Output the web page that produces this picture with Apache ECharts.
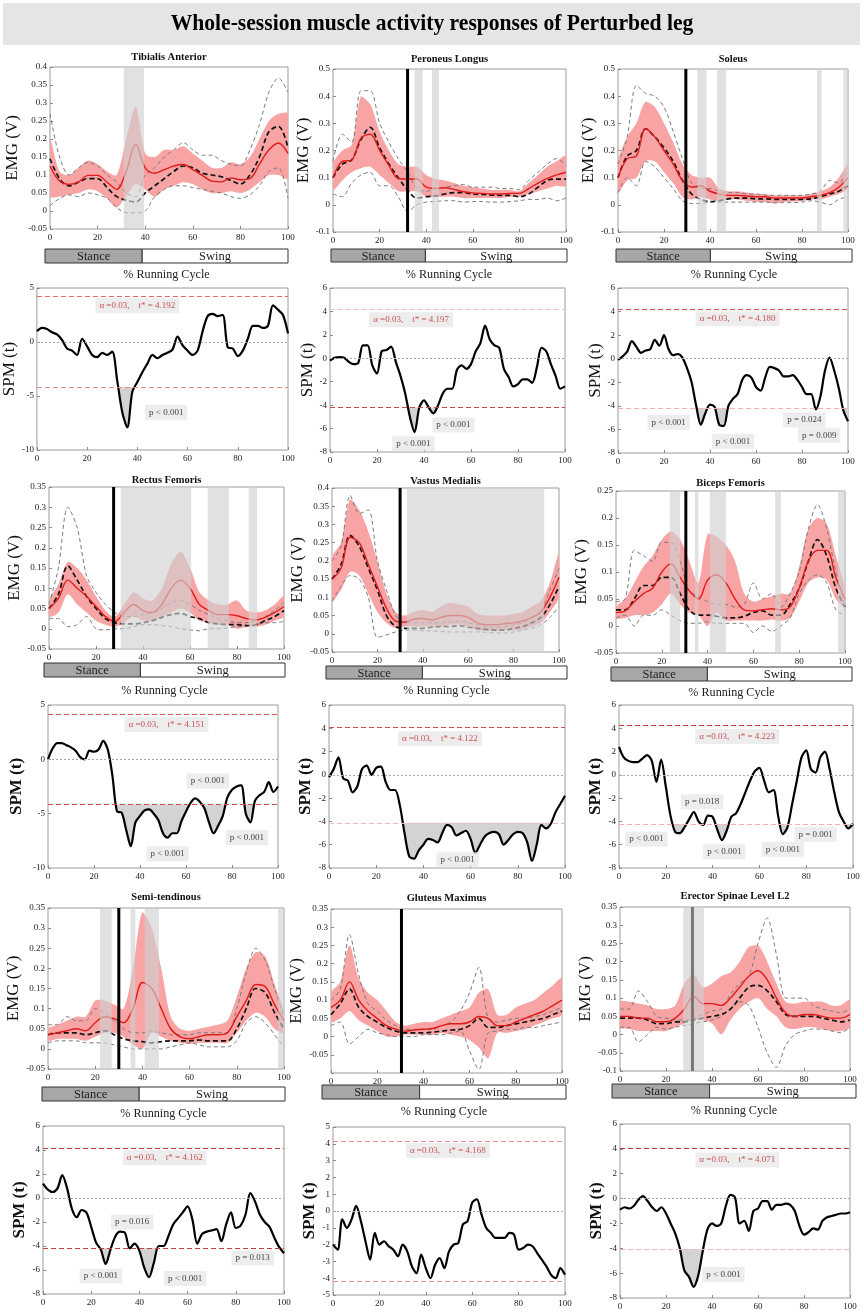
<!DOCTYPE html>
<html><head><meta charset="utf-8">
<script src="https://cdn.jsdelivr.net/npm/echarts@6/dist/echarts.min.js"></script>
<style>html,body{margin:0;padding:0;background:#fff}#c{width:864px;height:1314px}</style>
</head><body><div id="c"></div>
<script>
const FONT = "'Liberation Serif','Times New Roman',serif";
const FIG_TITLE = 'Whole-session muscle activity responses of Perturbed leg';
const EMG_X = [0,4,8,12,16,20,24,28,32,36,40,44,48,52,56,60,64,68,72,76,80,84,88,92,96,100];
const SPM_X = [0,2,4,6,8,10,12,14,16,18,20,22,24,26,28,30,32,34,36,38,40,42,44,46,48,50,52,54,56,58,60,62,64,66,68,70,72,74,76,78,80,82,84,86,88,90,92,94,96,98,100];
const X_TICKS = [0, 100, 20];

// ---- Tibialis Anterior
const TA_RED = [0.125,0.083,0.074,0.081,0.099,0.099,0.080,0.060,0.110,0.185,0.120,0.105,0.115,0.125,0.129,0.115,0.099,0.083,0.081,0.092,0.087,0.090,0.130,0.170,0.189,0.160];
const TA_RED_HI = [0.20,0.11,0.10,0.12,0.14,0.13,0.11,0.10,0.20,0.29,0.16,0.15,0.17,0.17,0.18,0.16,0.14,0.12,0.12,0.135,0.13,0.15,0.20,0.25,0.27,0.27];
const TA_RED_LO = [0.04,0.04,0.045,0.05,0.06,0.055,0.035,0.01,0.04,0.075,0.06,0.04,0.06,0.07,0.08,0.075,0.06,0.05,0.05,0.055,0.05,0.06,0.08,0.10,0.10,0.09];
const TA_BLK = [0.145,0.09,0.07,0.08,0.09,0.09,0.065,0.04,0.03,0.025,0.05,0.07,0.09,0.11,0.125,0.12,0.105,0.10,0.095,0.085,0.075,0.10,0.15,0.22,0.235,0.175];
const TA_GHI = [0.27,0.15,0.10,0.12,0.135,0.125,0.10,0.08,0.05,0.04,0.10,0.12,0.15,0.17,0.19,0.17,0.155,0.155,0.14,0.13,0.125,0.17,0.24,0.33,0.37,0.33];
const TA_GLO = [0.015,0.035,0.045,0.04,0.05,0.045,0.035,0.01,-0.005,-0.005,0.0,0.04,0.06,0.07,0.07,0.065,0.06,0.055,0.05,0.04,0.035,0.045,0.07,0.11,0.12,0.035];
const TA_SIG = [[31,39.5]];
const TA_TOE = [];
const TA_YAX = [-0.05, 0.4, 0.05];
// ---- Peroneus Longus
const PL_RED = [0.10,0.16,0.165,0.245,0.26,0.20,0.145,0.097,0.095,0.095,0.065,0.06,0.063,0.057,0.048,0.044,0.042,0.04,0.04,0.042,0.042,0.06,0.08,0.097,0.11,0.12];
const PL_RED_HI = [0.15,0.20,0.22,0.40,0.37,0.27,0.20,0.15,0.14,0.14,0.11,0.095,0.09,0.08,0.07,0.065,0.06,0.055,0.055,0.055,0.05,0.08,0.11,0.14,0.16,0.18];
const PL_RED_LO = [0.055,0.09,0.12,0.135,0.14,0.11,0.08,0.05,0.05,0.05,0.03,0.03,0.03,0.03,0.025,0.025,0.025,0.025,0.025,0.03,0.03,0.04,0.05,0.06,0.07,0.07];
const PL_BLK = [0.10,0.15,0.165,0.24,0.285,0.21,0.15,0.10,0.055,0.025,0.03,0.033,0.04,0.045,0.045,0.04,0.038,0.036,0.035,0.035,0.03,0.04,0.065,0.09,0.095,0.095];
const PL_GHI = [0.16,0.26,0.23,0.42,0.42,0.30,0.23,0.17,0.12,0.06,0.05,0.06,0.065,0.07,0.075,0.065,0.065,0.065,0.06,0.06,0.055,0.09,0.12,0.15,0.17,0.145];
const PL_GLO = [0.04,0.03,0.08,0.11,0.12,0.07,0.07,0.03,-0.025,0.0,0.01,0.012,0.015,0.015,0.01,0.012,0.012,0.01,0.01,0.012,0.015,0.02,0.02,0.025,0.015,0.025];
const PL_SIG = [[35,38.5],[42.5,45.5]];
const PL_TOE = [32];
const PL_YAX = [-0.1, 0.5, 0.1];
// ---- Soleus
const SO_RED = [0.10,0.17,0.18,0.28,0.25,0.20,0.15,0.09,0.065,0.07,0.05,0.04,0.035,0.035,0.032,0.03,0.03,0.025,0.025,0.025,0.025,0.03,0.035,0.045,0.065,0.10];
const SO_RED_HI = [0.16,0.25,0.30,0.38,0.36,0.30,0.23,0.15,0.11,0.10,0.10,0.06,0.05,0.05,0.045,0.04,0.04,0.035,0.035,0.035,0.035,0.04,0.05,0.065,0.10,0.15];
const SO_RED_LO = [0.045,0.09,0.10,0.16,0.16,0.12,0.08,0.03,0.02,0.03,0.02,0.015,0.02,0.02,0.015,0.01,0.01,0.005,0.01,0.012,0.015,0.02,0.02,0.03,0.04,0.06];
const SO_BLK = [0.10,0.18,0.20,0.28,0.25,0.21,0.16,0.09,0.04,0.02,0.012,0.015,0.022,0.025,0.025,0.022,0.022,0.02,0.02,0.02,0.02,0.022,0.03,0.04,0.05,0.07];
const SO_GHI = [0.15,0.25,0.44,0.41,0.40,0.36,0.27,0.17,0.08,0.06,0.06,0.05,0.045,0.045,0.04,0.04,0.035,0.035,0.035,0.035,0.035,0.04,0.05,0.09,0.08,0.13];
const SO_GLO = [0.045,0.10,0.07,0.16,0.14,0.10,0.06,0.015,0.005,0.005,0.01,0.01,0.01,0.01,0.01,0.01,0.01,0.008,0.008,0.008,0.01,0.015,0.01,0.0,0.02,0.03];
const SO_SIG = [[34.5,38.5],[43,47],[86.5,88.5],[98,100]];
const SO_TOE = [29.5];
const SO_YAX = [-0.1, 0.5, 0.1];
// ---- Rectus Femoris
const RF_RED = [0.05,0.075,0.12,0.10,0.08,0.055,0.03,0.018,0.04,0.06,0.045,0.04,0.06,0.10,0.12,0.10,0.06,0.045,0.035,0.035,0.032,0.025,0.022,0.028,0.04,0.055];
const RF_RED_HI = [0.07,0.11,0.165,0.15,0.12,0.08,0.045,0.03,0.06,0.09,0.075,0.07,0.10,0.16,0.19,0.15,0.09,0.07,0.06,0.06,0.07,0.045,0.04,0.045,0.06,0.08];
const RF_RED_LO = [0.03,0.04,0.085,0.06,0.04,0.02,0.01,0.005,0.015,0.03,0.02,0.02,0.03,0.04,0.05,0.04,0.02,0.015,0.01,0.01,0.0,0.005,0.005,0.01,0.02,0.03];
const RF_BLK = [0.05,0.085,0.155,0.12,0.08,0.05,0.025,0.015,0.012,0.012,0.015,0.02,0.028,0.035,0.038,0.03,0.025,0.015,0.012,0.01,0.01,0.008,0.01,0.02,0.03,0.045];
const RF_GHI = [0.06,0.15,0.30,0.25,0.13,0.09,0.06,0.04,0.03,0.03,0.035,0.04,0.05,0.065,0.07,0.06,0.045,0.035,0.025,0.02,0.015,0.015,0.02,0.03,0.045,0.065];
const RF_GLO = [0.025,0.025,0.005,0.01,0.03,0.0,-0.003,0.0,0.0,0.005,0.01,0.01,0.008,0.005,0.0,-0.003,-0.005,0.0,0.0,0.002,0.005,0.005,0.01,0.015,0.015,0.018];
const RF_SIG = [[30.5,60.5],[67.5,76.5],[85,88.5]];
const RF_TOE = [27.5];
const RF_YAX = [-0.05, 0.35, 0.05];
// ---- Vastus Medialis
const VM_RED = [0.15,0.18,0.265,0.25,0.19,0.13,0.07,0.035,0.032,0.04,0.042,0.038,0.045,0.05,0.05,0.045,0.03,0.025,0.025,0.028,0.03,0.035,0.045,0.06,0.10,0.155];
const VM_RED_HI = [0.21,0.25,0.37,0.34,0.28,0.20,0.11,0.06,0.05,0.06,0.065,0.06,0.075,0.085,0.08,0.075,0.055,0.05,0.05,0.05,0.055,0.06,0.075,0.09,0.14,0.22];
const VM_RED_LO = [0.09,0.12,0.17,0.16,0.11,0.06,0.03,0.015,0.02,0.02,0.02,0.02,0.02,0.025,0.025,0.02,0.01,0.008,0.008,0.01,0.01,0.012,0.02,0.03,0.06,0.10];
const VM_BLK = [0.15,0.19,0.27,0.24,0.18,0.12,0.05,0.02,0.015,0.015,0.015,0.018,0.02,0.02,0.022,0.018,0.015,0.012,0.01,0.01,0.015,0.02,0.03,0.045,0.08,0.13];
const VM_GHI = [0.20,0.24,0.38,0.33,0.34,0.20,0.12,0.05,0.03,0.03,0.03,0.03,0.03,0.032,0.035,0.03,0.025,0.02,0.018,0.02,0.025,0.03,0.045,0.06,0.12,0.18];
const VM_GLO = [0.09,0.13,0.16,0.15,0.10,-0.01,-0.003,0.005,0.01,0.01,0.008,0.008,0.006,0.005,0.005,0.005,0.005,0.004,0.002,0.002,0.005,0.01,0.015,0.025,0.045,0.075];
const VM_SIG = [[33,93.5]];
const VM_TOE = [30];
const VM_YAX = [-0.05, 0.4, 0.05];
// ---- Biceps Femoris
const BF_RED = [0.025,0.028,0.045,0.06,0.07,0.10,0.115,0.09,0.065,0.05,0.085,0.095,0.08,0.05,0.03,0.028,0.03,0.032,0.03,0.035,0.07,0.12,0.14,0.14,0.09,0.05];
const BF_RED_HI = [0.035,0.05,0.08,0.11,0.13,0.16,0.175,0.16,0.12,0.08,0.17,0.165,0.15,0.12,0.06,0.045,0.05,0.055,0.06,0.06,0.11,0.18,0.20,0.19,0.13,0.07];
const BF_RED_LO = [0.015,0.015,0.02,0.02,0.025,0.04,0.06,0.04,0.025,0.02,0.0,0.025,0.01,0.01,0.01,0.01,0.01,0.012,0.01,0.015,0.045,0.08,0.09,0.085,0.05,0.035];
const BF_BLK = [0.03,0.03,0.05,0.075,0.075,0.09,0.09,0.06,0.03,0.02,0.02,0.018,0.015,0.015,0.018,0.025,0.028,0.02,0.02,0.04,0.07,0.12,0.16,0.13,0.07,0.035];
const BF_GHI = [0.045,0.05,0.14,0.13,0.12,0.155,0.155,0.12,0.065,0.055,0.045,0.04,0.04,0.035,0.04,0.08,0.05,0.06,0.035,0.06,0.10,0.18,0.225,0.18,0.10,0.04];
const BF_GLO = [0.015,0.02,0.0,0.02,0.02,0.03,0.02,0.01,0.005,0.005,0.008,0.005,0.005,0.005,0.005,-0.012,0.0,-0.01,0.0,0.015,0.06,0.085,0.095,0.08,0.03,0.02];
const BF_SIG = [[23.5,28],[34.5,36],[41,48],[69.5,72],[97,100]];
const BF_TOE = [30.5];
const BF_YAX = [-0.05, 0.25, 0.05];
// ---- Semi-tendinous
const ST_RED = [0.035,0.04,0.045,0.05,0.045,0.065,0.08,0.075,0.065,0.10,0.165,0.15,0.10,0.05,0.03,0.025,0.03,0.035,0.035,0.04,0.08,0.12,0.16,0.155,0.11,0.07];
const ST_RED_HI = [0.05,0.06,0.07,0.08,0.08,0.12,0.12,0.11,0.10,0.20,0.34,0.30,0.20,0.08,0.05,0.045,0.05,0.055,0.06,0.07,0.13,0.20,0.24,0.23,0.16,0.09];
const ST_RED_LO = [0.02,0.025,0.025,0.025,0.02,0.03,0.04,0.04,0.03,0.01,0.0,0.04,0.03,0.02,0.015,0.012,0.015,0.015,0.015,0.015,0.04,0.07,0.09,0.08,0.05,0.04];
const ST_BLK = [0.035,0.04,0.04,0.04,0.035,0.04,0.045,0.035,0.025,0.02,0.018,0.015,0.018,0.02,0.02,0.02,0.022,0.02,0.02,0.02,0.05,0.10,0.15,0.14,0.09,0.05];
const ST_GHI = [0.06,0.06,0.08,0.07,0.07,0.10,0.09,0.07,0.05,0.04,0.04,0.045,0.04,0.035,0.035,0.035,0.04,0.04,0.04,0.04,0.10,0.19,0.25,0.22,0.15,0.08];
const ST_GLO = [0.015,0.02,0.02,0.02,0.015,0.015,0.015,0.01,0.005,0.0,0.0,0.0,0.0,0.005,0.01,0.015,0.01,0.005,0.005,0.005,0.02,0.065,0.08,0.065,0.035,0.005];
const ST_SIG = [[22,27],[35,37],[41,47],[97.5,100]];
const ST_TOE = [30];
const ST_YAX = [-0.05, 0.35, 0.05];
// ---- Gluteus Maximus
const GM_RED = [0.08,0.10,0.15,0.10,0.07,0.05,0.03,0.02,0.015,0.018,0.02,0.022,0.03,0.035,0.035,0.04,0.055,0.05,0.03,0.03,0.04,0.05,0.06,0.07,0.085,0.10];
const GM_RED_HI = [0.12,0.15,0.25,0.16,0.12,0.10,0.07,0.04,0.03,0.035,0.04,0.04,0.05,0.06,0.07,0.08,0.12,0.13,0.06,0.06,0.08,0.09,0.10,0.12,0.14,0.16];
const GM_RED_LO = [0.04,0.05,0.07,0.045,0.03,0.015,0.0,0.0,0.005,0.005,0.005,0.005,0.01,0.005,0.0,-0.01,-0.03,-0.06,0.01,0.01,0.015,0.02,0.03,0.04,0.05,0.06];
const GM_BLK = [0.06,0.09,0.13,0.08,0.055,0.04,0.025,0.015,0.01,0.01,0.01,0.012,0.015,0.018,0.02,0.03,0.05,0.025,0.025,0.03,0.035,0.04,0.045,0.05,0.06,0.07];
const GM_GHI = [0.10,0.13,0.28,0.17,0.09,0.07,0.045,0.03,0.02,0.02,0.02,0.02,0.03,0.04,0.07,0.12,0.19,0.05,0.04,0.045,0.05,0.05,0.055,0.06,0.07,0.08];
const GM_GLO = [0.03,0.04,-0.02,0.0,0.02,0.01,0.005,0.0,0.0,0.0,0.005,0.005,0.005,0.01,0.015,-0.04,-0.09,0.01,0.015,0.02,0.02,0.025,0.025,0.03,0.035,0.04];
const GM_SIG = [];
const GM_TOE = [30.5];
const GM_YAX = [-0.1, 0.35, 0.05];
// ---- Erector Spinae Level L2
const ES_RED = [0.05,0.05,0.045,0.045,0.035,0.035,0.045,0.07,0.105,0.085,0.085,0.08,0.10,0.13,0.16,0.175,0.15,0.10,0.06,0.05,0.055,0.055,0.05,0.045,0.045,0.055];
const ES_RED_HI = [0.09,0.09,0.085,0.08,0.07,0.07,0.08,0.14,0.165,0.13,0.14,0.16,0.17,0.20,0.24,0.245,0.20,0.14,0.09,0.085,0.09,0.09,0.09,0.08,0.08,0.095];
const ES_RED_LO = [0.02,0.015,0.01,0.01,0.01,0.01,0.02,0.03,0.04,0.04,0.03,0.0,0.04,0.07,0.09,0.10,0.07,0.05,0.02,0.015,0.02,0.02,0.015,0.01,0.01,0.02];
const ES_BLK = [0.045,0.045,0.045,0.04,0.03,0.03,0.035,0.035,0.04,0.045,0.05,0.055,0.07,0.10,0.13,0.135,0.12,0.09,0.055,0.05,0.05,0.05,0.045,0.04,0.035,0.04];
const ES_GHI = [0.07,0.07,0.12,0.09,0.05,0.045,0.04,0.04,0.045,0.055,0.065,0.07,0.11,0.14,0.16,0.25,0.32,0.22,0.10,0.10,0.10,0.08,0.07,0.065,0.06,0.07];
const ES_GLO = [0.02,0.02,-0.02,0.0,0.02,0.015,0.02,0.025,0.03,0.035,0.04,0.05,0.07,0.09,0.08,0.02,-0.05,-0.09,-0.03,0.0,0.01,0.015,0.015,0.01,0.005,0.02];
const ES_SIG = [[27.5,36.5]];
const ES_TOE = [31.5];
const ES_YAX = [-0.1, 0.35, 0.05];

// ---- SPM curves
const TA_SPM = [1.0,1.3,1.2,0.9,0.7,0.2,-0.6,-0.8,-1.2,0.3,-0.4,-1.2,-1.4,-1.0,-1.2,-0.9,-3.6,-6.5,-7.9,-4.6,-3.7,-2.8,-2.0,-1.2,-1.5,-1.2,-1.0,-0.7,0.5,-0.3,-0.8,-1.2,-0.8,1.0,2.4,2.6,2.4,2.5,-0.5,-0.6,-1.3,-0.8,0.3,1.5,1.5,1.3,1.5,3.4,3.0,2.5,0.8];
const PL_SPM = [-0.2,0.05,0.1,0.05,-0.3,-0.5,-0.4,1.1,1.1,-0.6,-1.3,0.6,0.7,1.0,-0.3,-1.5,-3.0,-5.0,-6.3,-4.2,-3.6,-4.2,-4.7,-4.0,-3.0,-2.6,-2.6,-1.0,-0.6,-0.9,-0.5,0.6,1.3,2.8,1.6,1.1,0.9,-0.9,-1.6,-2.4,-2.2,-1.8,-1.8,-2.1,-0.8,0.9,0.6,-0.5,-1.5,-2.6,-2.4];
const SO_SPM = [-0.1,0.2,0.6,1.5,1.0,0.5,0.7,0.8,1.6,1.1,2.0,0.8,0.3,0.4,0.1,-0.8,-2.0,-4.0,-5.6,-4.6,-3.9,-4.1,-5.6,-5.7,-4.0,-3.4,-3.0,-1.8,-1.4,-1.6,-2.4,-2.7,-1.6,-0.7,-0.8,-1.0,-1.5,-1.5,-1.4,-1.8,-2.4,-3.0,-3.0,-4.3,-3.2,-1.0,0.1,-1.0,-2.5,-4.4,-5.3];
const RF_SPM = [0.0,1.0,1.5,1.5,1.3,1.1,0.8,0.2,0.0,0.8,0.7,0.9,1.7,0.9,-1.5,-4.8,-4.9,-6.5,-8.0,-5.8,-5.2,-4.7,-4.6,-5.0,-5.6,-6.8,-7.2,-6.8,-6.8,-5.7,-4.8,-4.0,-3.6,-3.9,-4.5,-5.8,-6.8,-6.1,-5.2,-3.5,-2.8,-2.5,-2.4,-5.0,-5.8,-3.8,-3.3,-3.0,-2.1,-3.0,-2.5];
const VM_SPM = [-0.2,0.5,1.5,-0.3,-0.5,-1.5,-1.0,0.5,0.8,0.0,0.6,0.7,-0.6,-1.3,-1.3,-2.6,-5.0,-7.0,-7.2,-6.5,-6.0,-5.5,-5.6,-5.8,-5.0,-4.3,-4.5,-5.2,-5.0,-4.8,-5.5,-6.7,-6.0,-5.3,-5.0,-4.9,-5.1,-6.0,-5.6,-5.1,-4.9,-5.0,-5.8,-7.4,-6.0,-4.3,-4.6,-4.2,-3.2,-2.5,-1.8];
const BF_SPM = [2.4,1.5,1.2,1.1,1.1,1.4,1.7,1.2,-0.6,1.3,-1.0,-3.5,-4.9,-5.0,-4.5,-3.8,-3.2,-4.0,-4.3,-3.5,-3.6,-4.7,-5.6,-4.8,-3.6,-3.3,-2.5,-1.5,-0.5,0.3,0.6,-0.5,-1.5,-1.3,-3.5,-5.1,-4.5,-2.5,-0.5,1.5,2.1,0.5,0.2,1.5,2.0,0.5,-1.5,-3.2,-4.0,-4.6,-4.2];
const ST_SPM = [1.2,0.7,0.5,0.8,1.9,0.8,-0.9,-1.6,-1.0,-1.2,-2.4,-3.7,-4.3,-5.5,-4.3,-3.2,-2.8,-2.9,-4.2,-3.8,-4.4,-5.8,-6.6,-5.4,-4.0,-4.0,-3.2,-2.2,-1.7,-1.2,-0.7,-1.8,-3.8,-3.0,-2.8,-2.7,-2.6,-3.6,-2.2,-1.2,-2.5,-2.3,-1.4,0.4,-0.3,-1.4,-2.0,-2.4,-3.3,-4.1,-4.6];
const GM_SPM = [-2.0,-2.3,-0.5,-1.0,-0.5,0.3,-0.6,-1.8,-2.9,-1.3,-2.0,-1.8,-2.1,-2.3,-2.7,-2.0,-2.4,-3.3,-3.7,-2.6,-3.4,-4.0,-3.2,-2.8,-3.4,-2.4,-2.0,-1.9,-0.8,-0.6,0.5,0.7,-0.2,-1.0,-1.3,-1.6,-1.6,-1.6,-1.3,-1.4,-2.3,-2.2,-2.0,-2.1,-2.5,-2.9,-3.3,-3.8,-4.0,-3.4,-3.8];
const ES_SPM = [-0.9,-0.7,-0.8,-0.6,-0.1,0.2,-0.2,-0.7,-1.0,-0.7,-1.2,-2.0,-2.8,-4.0,-5.8,-6.3,-7.1,-6.2,-4.2,-2.5,-2.0,-2.2,-2.0,-0.6,0.3,0.1,-2.0,-1.8,-2.6,-1.0,-0.8,-0.2,-0.2,-0.9,-0.5,-0.5,-0.4,-0.5,-1.0,-2.2,-2.9,-2.7,-2.4,-2.5,-1.8,-1.5,-1.4,-1.3,-1.2,-1.2,-1.1];

const TSTAR = [4.192, 4.197, 4.180, 4.151, 4.122, 4.223, 4.162, 4.168, 4.071];
const SPM_YAX = [[-10,5,5],[-8,6,2],[-8,6,2],[-10,5,5],[-8,6,2],[-8,6,2],[-8,6,2],[-5,5,1],[-8,6,2]];
const ALPHA_AT = [[40,3.35],[34.5,3.3],[52,3.4],[51.5,3.2],[47,3.1],[50.5,3.3],[50.5,3.35],[49.5,3.6],[51,3.1]];
const P_NOTES = [
  [[51.5,-6.5,'p < 0.001']],
  [[52.5,-5.7,'p < 0.001'],[35.5,-7.3,'p < 0.001']],
  [[22,-5.4,'p < 0.001'],[50,-7.0,'p < 0.001'],[81,-5.2,'p = 0.024'],[87.5,-6.5,'p = 0.009']],
  [[69.5,-2.0,'p < 0.001'],[52,-8.7,'p < 0.001'],[86.5,-7.2,'p < 0.001']],
  [[54.5,-7.3,'p < 0.001']],
  [[11.7,-5.5,'p < 0.001'],[35.5,-2.3,'p = 0.018'],[45,-6.6,'p < 0.001'],[70,-6.4,'p < 0.001'],[84,-5.1,'p = 0.001']],
  [[37,-2.0,'p = 0.016'],[24,-6.5,'p < 0.001'],[59,-6.7,'p < 0.001'],[87,-5.0,'p = 0.013']],
  [],
  [[45,-6.1,'p < 0.001']]
];

const MUSCLES = ['Tibialis Anterior','Peroneus Longus','Soleus','Rectus Femoris','Vastus Medialis','Biceps Femoris','Semi-tendinous','Gluteus Maximus','Erector Spinae Level L2'];
const EMG = [
  [TA_RED,TA_RED_LO,TA_RED_HI,TA_BLK,TA_GLO,TA_GHI,TA_SIG,TA_TOE,TA_YAX],
  [PL_RED,PL_RED_LO,PL_RED_HI,PL_BLK,PL_GLO,PL_GHI,PL_SIG,PL_TOE,PL_YAX],
  [SO_RED,SO_RED_LO,SO_RED_HI,SO_BLK,SO_GLO,SO_GHI,SO_SIG,SO_TOE,SO_YAX],
  [RF_RED,RF_RED_LO,RF_RED_HI,RF_BLK,RF_GLO,RF_GHI,RF_SIG,RF_TOE,RF_YAX],
  [VM_RED,VM_RED_LO,VM_RED_HI,VM_BLK,VM_GLO,VM_GHI,VM_SIG,VM_TOE,VM_YAX],
  [BF_RED,BF_RED_LO,BF_RED_HI,BF_BLK,BF_GLO,BF_GHI,BF_SIG,BF_TOE,BF_YAX],
  [ST_RED,ST_RED_LO,ST_RED_HI,ST_BLK,ST_GLO,ST_GHI,ST_SIG,ST_TOE,ST_YAX],
  [GM_RED,GM_RED_LO,GM_RED_HI,GM_BLK,GM_GLO,GM_GHI,GM_SIG,GM_TOE,GM_YAX],
  [ES_RED,ES_RED_LO,ES_RED_HI,ES_BLK,ES_GLO,ES_GHI,ES_SIG,ES_TOE,ES_YAX]
];
const SPM = [TA_SPM,PL_SPM,SO_SPM,RF_SPM,VM_SPM,BF_SPM,ST_SPM,GM_SPM,ES_SPM];

// ---------- layout & style (pixels) ----------
const EMG_BOX = [[50,67,288,229],[333,69,566,232],[618,69,848,232],[49,487,284,649],[332,488,559,652],[616,491,845,653],[48,908,284,1069],[331,909,562,1073],[620,907,850,1071]];
const SPM_BOX = [[36,288,288,450],[330,288,565,452],[618,288,848,453],[48,705,278,868],[329,705,565,868],[619,705,853,868],[43,1126,284,1294],[333,1127,565,1295],[620,1124,850,1298]];
const EMG_NAME_X = [13,305,590,18,305,590,17,303,591];
const SPM_NAME_X = [22,313,598,17,310,601,22,313,598];
const BARS = [[45,288,249,14],[331,567,249,13],[616,852,249,13],[44,285,663,14],[326,567,666,13],[611,852,667,14],[42,285,1087,14],[322,566,1085,14],[612,856,1084,14]];
const TITLE_Y = [57,59,59,480,481,483,897,898,896];
const CYCLE_Y = [274,274,274,690,690,692,1113,1111,1110];
const THR_COL = [['#e06666','#e58a8a'],['#f5c0c0','#d64545'],['#d65050','#f2b0b0'],['#d65050','#d65050'],['#d65050','#f2b8b8'],['#c83c3c','#f2b0b0'],['#c83c3c','#c83c3c'],['#eb8a8a','#eb8a8a'],['#c83c3c','#f2b8b8']];
const TOE_COL = ['#000','#000','#000','#000','#000','#000','#000','#000','#777'];

const grids=[], xAxes=[], yAxes=[], series=[], graphics=[];
const zip = (xs, ys) => xs.map((x,k)=>[x, ys[k]]);

function addGrid(box, yr, name, nameX, bold, hideMin) {
  const i = grids.length;
  grids.push({left:box[0], top:box[1], width:box[2]-box[0], height:box[3]-box[1], show:true, borderColor:'#9c9c9c', borderWidth:1, backgroundColor:'rgba(0,0,0,0)'});
  const tick = {show:true, inside:true, length:3, lineStyle:{color:'#8a8a8a'}};
  xAxes.push({gridIndex:i, type:'value', min:X_TICKS[0], max:X_TICKS[1], interval:X_TICKS[2], position:'bottom',
    axisLine:{show:false, onZero:false}, axisTick:tick, splitLine:{show:false},
    axisLabel:{fontFamily:FONT, fontSize:9, color:'#222', margin:4}});
  const fs = 17;
  yAxes.push({gridIndex:i, type:'value', min:yr[0], max:yr[1], interval:yr[2], position:'left', name:name, nameLocation:'middle', nameRotate:90,
    nameGap: Math.max(2, box[0]-nameX-fs/2),
    nameTextStyle:{fontFamily:FONT, fontSize:fs, color:'#111', fontWeight: bold?'bold':'normal'},
    axisLine:{show:false, onZero:false}, axisTick:tick, splitLine:{show:false},
    axisLabel:{fontFamily:FONT, fontSize:9, color:'#222', margin:3,
      formatter: v => (hideMin && Math.abs(v-yr[0])<1e-9) ? '' : String(+(+v).toFixed(3))}});
  return i;
}

function bounds(pts) {
  let x0=Infinity,y0=Infinity,x1=-Infinity,y1=-Infinity;
  pts.forEach(p=>{x0=Math.min(x0,p[0]);y0=Math.min(y0,p[1]);x1=Math.max(x1,p[0]);y1=Math.max(y1,p[1]);});
  return [[x0,y0],[x1,y1]];
}
function bandSeries(i, xs, lo, hi, color) {
  return {type:'custom', xAxisIndex:i, yAxisIndex:i, z:1, silent:true, clip:true, data:[[xs[0], lo[0]]],
    renderItem:(p, api)=>{
      const top = xs.map((x,k)=>api.coord([x, hi[k]]));
      const bot = xs.map((x,k)=>api.coord([x, lo[k]])).reverse();
      const pts = top.concat(bot);
      return {type:'polygon', shape:{points:pts, smooth:0.3, smoothConstraint:bounds(pts)}, style:{fill:color}};
    }};
}
function clusterSeries(i, xs, t, thr) {
  const polys=[]; let cur=null;
  for (let k=0;k<xs.length;k++){
    if (t[k] < thr) {
      if (!cur) { cur=[]; if (k>0){ const f=(thr-t[k-1])/(t[k]-t[k-1]); cur.push([xs[k-1]+f*(xs[k]-xs[k-1]), thr]); } else cur.push([xs[k], thr]); }
      cur.push([xs[k], t[k]]);
    } else if (cur) {
      const f=(thr-t[k-1])/(t[k]-t[k-1]); cur.push([xs[k-1]+f*(xs[k]-xs[k-1]), thr]); polys.push(cur); cur=null;
    }
  }
  if (cur) { cur.push([xs[xs.length-1], thr]); polys.push(cur); }
  return {type:'custom', xAxisIndex:i, yAxisIndex:i, z:1, silent:true, clip:true, data:polys.map((_,k)=>[k, thr]),
    renderItem:(p, api)=>{
      const poly = polys[p.dataIndex];
      if (!poly) return null;
      return {type:'polygon', shape:{points:poly.map(q=>api.coord(q))}, style:{fill:'#d3d3d3'}};
    }};
}
function zoneSeries(i, sig, yr) {
  return {type:'custom', xAxisIndex:i, yAxisIndex:i, z:5, silent:true, data:sig,
    renderItem:(p, api)=>{
      const a = api.coord([api.value(0), yr[1]]), b = api.coord([api.value(1), yr[0]]);
      return {type:'rect', shape:{x:a[0], y:a[1], width:b[0]-a[0], height:b[1]-a[1]}, style:{fill:'rgba(208,208,208,0.64)'}};
    }};
}
function toeSeries(i, toe, yr, col) {
  return {type:'custom', xAxisIndex:i, yAxisIndex:i, z:6, silent:true, data:toe.map(t=>[t, yr[0]]),
    renderItem:(p, api)=>{
      const a = api.coord([api.value(0), yr[1]]), b = api.coord([api.value(0), yr[0]]);
      return {type:'line', shape:{x1:a[0], y1:a[1], x2:b[0], y2:b[1]}, style:{stroke:col, lineWidth:3}};
    }};
}

for (let m=0; m<9; m++) {
  const row = Math.floor(m/3);
  const [red, lo, hi, blk, glo, ghi, sig, toe, yr] = EMG[m];
  const gi = addGrid(EMG_BOX[m], yr, 'EMG (V)', EMG_NAME_X[m], false, m===7);
  const base = {type:'line', xAxisIndex:gi, yAxisIndex:gi, symbol:'none', silent:true, animation:false};
  series.push(bandSeries(gi, EMG_X, lo, hi, '#f8a4a4'));
  series.push(Object.assign({}, base, {data:zip(EMG_X, ghi), smooth:0.3, lineStyle:{color:'#7a7a7a', width:1, type:[4,3]}, z:2}));
  series.push(Object.assign({}, base, {data:zip(EMG_X, glo), smooth:0.3, lineStyle:{color:'#7a7a7a', width:1, type:[4,3]}, z:2}));
  series.push(Object.assign({}, base, {data:zip(EMG_X, blk), smooth:0.35, lineStyle:{color:'#111', width:1.7, type:[5,3]}, z:3}));
  series.push(Object.assign({}, base, {data:zip(EMG_X, red), smooth:0.35, lineStyle:{color:'#e01b1b', width:1.4}, z:4}));
  if (sig.length) series.push(zoneSeries(gi, sig, yr));
  if (toe.length) series.push(toeSeries(gi, toe, yr, TOE_COL[m]));

  const eb = EMG_BOX[m];
  graphics.push({type:'text', x:(eb[0]+eb[2])/2, y:TITLE_Y[m], silent:true,
    style:{text:MUSCLES[m], fontFamily:FONT, fontSize:10.5, fontWeight:'bold', fill:'#111', align:'center', verticalAlign:'middle'}});
  const [x1,x2,by,bh] = BARS[m];
  const sw = (x2-x1)*0.4;
  graphics.push({type:'rect', silent:true, shape:{x:x1, y:by, width:sw, height:bh}, style:{fill:'#a7a7a7', stroke:'#333', lineWidth:1}});
  graphics.push({type:'rect', silent:true, shape:{x:x1+sw, y:by, width:(x2-x1)-sw, height:bh}, style:{fill:'#fff', stroke:'#333', lineWidth:1}});
  graphics.push({type:'text', silent:true, x:x1+sw/2, y:by+bh/2+1, style:{text:'Stance', fontFamily:FONT, fontSize:12.5, fill:'#222', align:'center', verticalAlign:'middle'}});
  graphics.push({type:'text', silent:true, x:x1+sw+((x2-x1)-sw)/2, y:by+bh/2+1, style:{text:'Swing', fontFamily:FONT, fontSize:12.5, fill:'#222', align:'center', verticalAlign:'middle'}});
  graphics.push({type:'text', silent:true, x:(x1+x2)/2, y:CYCLE_Y[m], scaleX:0.9, style:{text:'% Running Cycle', fontFamily:FONT, fontSize:13.5, fill:'#222', align:'center', verticalAlign:'middle'}});

  const syr = SPM_YAX[m], t = SPM[m], ts = TSTAR[m];
  const si = addGrid(SPM_BOX[m], syr, 'SPM (t)', SPM_NAME_X[m], row>0, false);
  const sb = {type:'line', xAxisIndex:si, yAxisIndex:si, symbol:'none', silent:true, animation:false};
  series.push(clusterSeries(si, SPM_X, t, -ts));
  series.push(Object.assign({}, sb, {data:zip(SPM_X, t), smooth:0.3, lineStyle:{color:'#000', width:2.2}, z:4,
    markLine:{silent:true, symbol:'none', animation:false, label:{show:false}, data:[
      {yAxis:ts, lineStyle:{color:THR_COL[m][0], type:[5,3], width:1.2}},
      {yAxis:-ts, lineStyle:{color:THR_COL[m][1], type:[5,3], width:1.2}},
      {yAxis:0, lineStyle:{color:'#a8a8a8', type:[2,2], width:1}}]}}));
  const notes = [{value:ALPHA_AT[m], label:{formatter:'α =0.03,    t* = '+ts.toFixed(3), color:'#c0282b'}}]
    .concat(P_NOTES[m].map(n=>({value:[n[0],n[1]], label:{formatter:n[2]}})));
  series.push({type:'scatter', xAxisIndex:si, yAxisIndex:si, symbolSize:1, silent:true, z:10, animation:false,
    itemStyle:{color:'rgba(0,0,0,0)'}, data:notes,
    label:{show:true, position:'inside', fontFamily:FONT, fontSize:9, color:'#111', backgroundColor:'#e8e8e8', padding:[3,4]}});
}

graphics.unshift({type:'rect', silent:true, z:-1, shape:{x:3, y:3, width:857, height:42}, style:{fill:'#e5e5e5'}});
graphics.push({type:'text', silent:true, x:432, y:24, scaleX:0.9, style:{text:FIG_TITLE, fontFamily:FONT, fontSize:24, fontWeight:'bold', fill:'#000', align:'center', verticalAlign:'middle'}});

const chart = echarts.init(document.getElementById('c'), null, {renderer:'canvas'});
chart.setOption({animation:false, backgroundColor:'#fff', grid:grids, xAxis:xAxes, yAxis:yAxes, series:series, graphic:graphics});
</script>
</body></html>
